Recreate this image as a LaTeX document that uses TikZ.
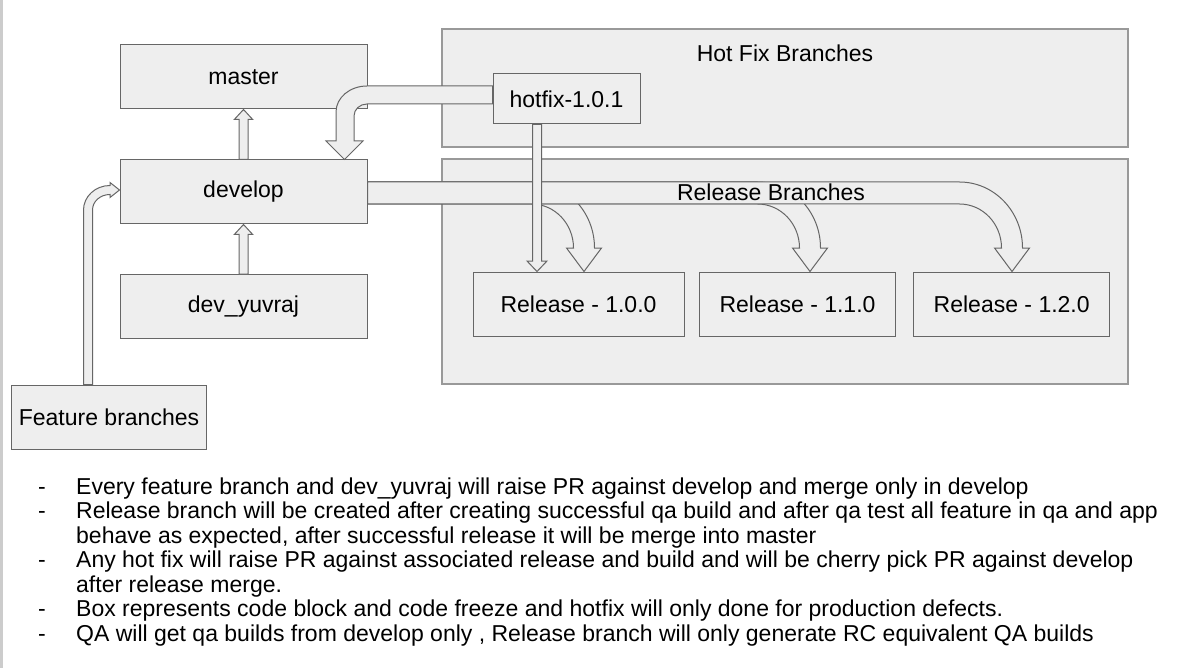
\documentclass[tikz,border=0pt]{standalone}
\usepackage{fontspec}
\setmainfont{Liberation Sans}
\usetikzlibrary{calc}
\definecolor{boxfill}{HTML}{EEEEEE}
\definecolor{boxline}{HTML}{666666}
\definecolor{bigline}{HTML}{999999}
\definecolor{stripgray}{HTML}{CCCCCC}
\newcommand\relarrow[2]{%
  \draw[blk] (develop.east |- 0,182) -- (#1,182)
    .. controls ({#1+34.8},182) and ({#1+63},{248-36.4}) .. ({#1+63},248)
    -- ({#1+70},248) -- ({#1+52.5},#2) -- ({#1+35},248) -- ({#1+42},248)
    .. controls ({#1+42},{248-24.3}) and ({#1+23.2},204) .. (#1,204)
    -- (develop.east |- 0,204) -- cycle;}
\begin{document}
\begin{tikzpicture}[x=1pt,y=-1pt,
  box/.style={draw=boxline, fill=boxfill, line width=1pt, inner sep=0pt, font=\fontsize{23}{26}\selectfont},
  bigbox/.style={draw=bigline, fill=boxfill, line width=1.8pt, inner sep=0pt},
  blk/.style={draw=boxline, fill=boxfill, line width=1pt, line join=miter},
  lbl/.style={inner sep=0pt, font=\fontsize{23}{26}\selectfont},
  body/.style={anchor=base west, inner sep=0pt, font=\fontsize{23}{25}\selectfont}]

\useasboundingbox (0,0) rectangle (1190,668);
\fill[white] (0,0) rectangle (1190,668);
\fill[stripgray] (0,0) rectangle (2.5,668);

% containers
\node[bigbox, minimum width=686pt, minimum height=118pt] (hfzone) at (785,88) {};
\node[bigbox, minimum width=686pt, minimum height=225pt] (relzone) at (785,271.5) {};
\node[lbl] (hftitle) at (785,53) {Hot Fix Branches};

% boxes
\node[box, minimum width=247pt, minimum height=64pt] (master) at (243.5,77) {master};
\node[box, minimum width=247pt, minimum height=64pt] (develop) at (243.5,192) {develop};
\node[box, minimum width=247pt, minimum height=64pt] (devy) at (243.5,306.5) {dev\_yuvraj};
\node[box, minimum width=195pt, minimum height=64pt] (feature) at (109,417) {Feature branches};
\node[box, minimum width=147pt, minimum height=50pt] (hotfix) at (566.5,99) {hotfix-1.0.1};
\node[box, minimum width=211pt, minimum height=64pt] (rel1) at (578.5,304) {Release - 1.0.0};
\node[box, minimum width=196pt, minimum height=64pt] (rel2) at (797.5,304) {Release - 1.1.0};
\node[box, minimum width=196pt, minimum height=64pt] (rel3) at (1011.7,304) {Release - 1.2.0};

% develop -> release arrows
\relarrow{531.5}{271.5}
\relarrow{757.5}{271.5}
\relarrow{959.5}{271.5}
\node[lbl] (reltitle) at (771,192) {Release Branches};

% hotfix -> release 1.0.0
\draw[blk] (hotfix.south -| 532.5,0) -- (532.5,261) -- (527,261)
  -- (rel1.north -| 537,0) -- (547,261) -- (541.5,261)
  -- (hotfix.south -| 541.5,0) -- cycle;

% hotfix -> develop
\draw[blk] (hotfix.west |- 0,86) -- (367,86)
  .. controls (349.9,86) and (336,97.6) .. (336,112)
  -- (336,141) -- (326,141) -- (develop.north -| 344.5,0) -- (363,141) -- (354,141)
  -- (354,116) .. controls (354,109.4) and (359.8,104) .. (367,104)
  -- (hotfix.west |- 0,104) -- cycle;

% develop -> master
\draw[blk] ($(develop.north)+(-4.5,0)$) -- ($(master.south)+(-4.5,10)$) -- ($(master.south)+(-9.2,10)$)
  -- (master.south) -- ($(master.south)+(9.2,10)$) -- ($(master.south)+(4.5,10)$)
  -- ($(develop.north)+(4.5,0)$) -- cycle;
% dev_yuvraj -> develop
\draw[blk] ($(devy.north)+(-4.5,0)$) -- ($(develop.south)+(-4.5,10)$) -- ($(develop.south)+(-9.2,10)$)
  -- (develop.south) -- ($(develop.south)+(9.2,10)$) -- ($(develop.south)+(4.5,10)$)
  -- ($(devy.north)+(4.5,0)$) -- cycle;

% feature -> develop
\draw[blk] (feature.north -| 83.5,0) -- (83.5,210)
  .. controls (83.5,196.5) and (95.4,185.5) .. (110,185.5)
  -- (110,182.5) -- (develop.west |- 0,190) -- (110,197.5) -- (110,194.5)
  .. controls (100.3,194.5) and (92.5,201.4) .. (92.5,210)
  -- (feature.north -| 92.5,0) -- cycle;

% notes
\foreach \yy/\nm in {494/d1,518.5/d2,567.5/d4,616.5/d6,641/d7}{
  \node[body] (\nm) at (38,\yy) {-};
}
\node[body] (t1) at (76,494) {Every feature branch and dev\_yuvraj will raise PR against develop and merge only in develop};
\node[body] (t2) at (76,518.5) {Release branch will be created after creating successful qa build and after qa test all feature in qa and app};
\node[body] (t3) at (76,543) {behave as expected, after successful release it will be merge into master};
\node[body] (t4) at (76,567.5) {Any hot fix will raise PR against associated release and build and will be cherry pick PR against develop};
\node[body] (t5) at (76,592) {after release merge.};
\node[body] (t6) at (76,616.5) {Box represents code block and code freeze and hotfix will only done for production defects.};
\node[body] (t7) at (76,641) {QA will get qa builds from develop only , Release branch will only generate RC equivalent QA builds};
\end{tikzpicture}
\end{document}
